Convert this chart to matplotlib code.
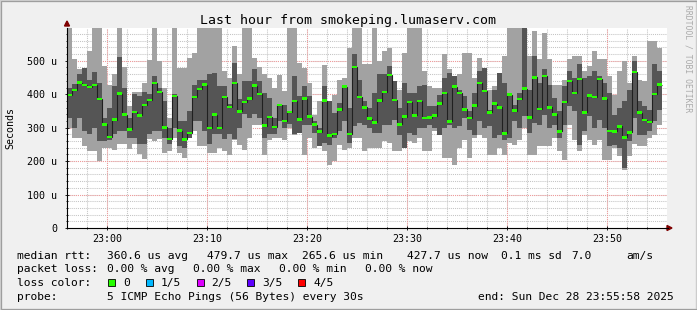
import numpy as np
import matplotlib
matplotlib.use("Agg")
import matplotlib.pyplot as plt
from matplotlib.patches import Rectangle, Polygon

W, H = 697, 310

# smoke data per 30s step, in microseconds (5 pings sorted: min, p2, median, p4, max)
ping_max = [598, 506, 474, 477, 528, 598, 597, 484, 427, 460, 598, 482, 364, 407, 407, 434, 501, 598, 500, 420,
            330, 598, 479, 479, 509, 524, 598, 598, 598, 598, 598, 469, 449, 544, 459, 598, 598, 509, 480, 460,
            449, 420, 456, 409, 598, 598, 494, 479, 434, 339, 379, 486, 379, 399, 444, 449, 537, 598, 598, 489,
            490, 598, 499, 529, 539, 439, 414, 524, 598, 598, 598, 469, 424, 419, 419, 519, 474, 454, 459, 524,
            524, 449, 509, 479, 414, 424, 464, 514, 598, 598, 598, 598, 514, 589, 504, 584, 504, 429, 429, 444,
            504, 514, 514, 469, 484, 529, 504, 504, 454, 399, 469, 499, 434, 514, 444, 439, 559, 559, 539]
ping_hi = [419, 430, 460, 477, 444, 467, 434, 330, 360, 424, 511, 420, 330, 400, 395, 407, 400, 454, 420, 380,
           300, 400, 320, 320, 350, 429, 444, 444, 460, 464, 424, 424, 370, 494, 385, 440, 440, 474, 440, 405,
           389, 330, 369, 369, 349, 454, 394, 424, 394, 319, 300, 426, 379, 344, 374, 424, 359, 519, 444, 379,
           360, 404, 459, 459, 484, 439, 359, 434, 404, 404, 424, 429, 364, 364, 399, 449, 464, 454, 414, 394,
           349, 404, 469, 479, 354, 414, 464, 434, 399, 369, 404, 598, 414, 514, 434, 474, 429, 389, 349, 424,
           469, 449, 489, 449, 454, 469, 454, 434, 404, 339, 359, 379, 414, 499, 379, 364, 354, 489, 469]
ping_med = [397, 412, 435, 427, 422, 427, 385, 310, 272, 324, 402, 339, 295, 347, 337, 367, 382, 434, 407, 301,
            266, 394, 291, 265, 284, 391, 416, 429, 299, 339, 299, 391, 362, 433, 349, 376, 387, 426, 401, 306,
            332, 302, 367, 320, 347, 380, 325, 387, 333, 309, 288, 381, 276, 281, 354, 423, 281, 481, 392, 361,
            327, 316, 381, 406, 457, 383, 310, 333, 377, 337, 380, 329, 330, 336, 372, 403, 319, 423, 403, 355,
            329, 366, 433, 410, 346, 372, 361, 283, 399, 351, 385, 417, 330, 450, 356, 454, 361, 340, 289, 376,
            439, 403, 446, 346, 396, 391, 446, 387, 290, 289, 304, 271, 286, 467, 345, 323, 317, 401, 429]
ping_lo = [330, 300, 330, 290, 280, 300, 260, 260, 262, 280, 290, 290, 270, 270, 250, 250, 280, 290, 290, 270,
           250, 300, 245, 240, 270, 320, 320, 290, 250, 280, 280, 265, 280, 265, 300, 340, 330, 340, 330, 270,
           280, 280, 319, 299, 310, 280, 284, 309, 309, 284, 244, 254, 249, 269, 289, 319, 254, 304, 314, 309,
           300, 284, 284, 309, 309, 324, 279, 239, 284, 279, 299, 299, 309, 299, 279, 299, 309, 299, 304, 329,
           294, 279, 319, 299, 304, 269, 279, 264, 269, 319, 299, 334, 284, 314, 309, 339, 299, 309, 269, 309,
           364, 349, 249, 289, 334, 299, 324, 299, 244, 249, 240, 180, 259, 330, 279, 279, 289, 319, 354]
ping_min = [300, 270, 270, 245, 230, 230, 200, 240, 240, 234, 250, 250, 235, 250, 220, 205, 265, 260, 265, 225,
            229, 268, 224, 209, 269, 289, 244, 244, 224, 224, 239, 229, 219, 264, 249, 234, 269, 309, 309, 219,
            264, 269, 269, 264, 299, 279, 284, 219, 269, 239, 244, 229, 189, 199, 249, 234, 239, 269, 269, 229,
            240, 239, 239, 259, 254, 229, 229, 239, 259, 254, 269, 229, 229, 289, 279, 209, 209, 189, 239, 264,
            209, 269, 279, 269, 219, 219, 239, 219, 254, 249, 264, 299, 219, 219, 244, 244, 244, 269, 229, 204,
            309, 264, 229, 279, 264, 249, 264, 204, 204, 239, 215, 173, 214, 250, 244, 244, 269, 279, 309]

y_ticks = [0, 100, 200, 300, 400, 500]
y_labels = ["0", "100 u", "200 u", "300 u", "400 u", "500 u"]
x_labels = ["23:00", "23:10", "23:20", "23:30", "23:40", "23:50"]
first_label_s = 242  # 23:00 is 242 s after the graph start 22:55:58
step = 30
swidth = 3.7

legend_rows = [
    [(16.7, "median rtt:"), (107.3, "360.6 us avg"), (207.3, "479.7 us max"), (301.7, "265.6 us min"),
     (406.7, "427.7 us now"), (500.7, "0.1 ms sd"), (571.7, "7.0"), (626.7, "am/s")],
    [(16.7, "packet loss:"), (107.3, "0.00 % avg"), (193.3, "0.00 % max"), (279.3, "0.00 % min"),
     (365.0, "0.00 % now")],
    [(16.7, "loss color:"), (123.3, "0"), (160.7, "1/5"), (211.0, "2/5"), (262.3, "3/5"), (313.3, "4/5")],
    [(16.7, "probe:"), (107.3, "5 ICMP Echo Pings (56 Bytes) every 30s"), (478.3, "end: Sun Dec 28 23:55:58 2025")],
]
legend_baselines = [259, 272.5, 286, 299.5]
loss_colors = [(108, "#26ff00"), (145.7, "#00b8ff"), (196.7, "#dd00ff"), (247.3, "#5e00ff"), (298.3, "#ff0000")]

MONO = "DejaVu Sans Mono"


def fx(x):
    return x / W


def fy(y):
    return 1 - y / H


fig = plt.figure(figsize=(W / 100, H / 100), dpi=100, facecolor="#f0f0f0")

# 3d-ish frame
fig.patches.append(Rectangle((0, 0), 1, 1, transform=fig.transFigure, fill=False,
                             edgecolor="#cfcfcf", lw=2.5))
fig.patches.append(Rectangle((fx(1), fy(309)), fx(696), 1 - 2 / H, transform=fig.transFigure, fill=False,
                             edgecolor="#9e9e9e", lw=0.8))

ax = fig.add_axes([fx(67), fy(228), 600 / W, 200 / H])
ax.set_facecolor("white")

# grid under the smoke
minor_x = np.arange(first_label_s % 120, 3600, 120)
major_x = np.arange(first_label_s, 3600, 600)
grid_kw = dict(lw=0.75, ls=(0, (1, 1)), zorder=1)
for x in minor_x:
    ax.axvline(x, color="#c4c4c4", **grid_kw)
for y in np.arange(20, 600, 20):
    ax.axhline(y, color="#c4c4c4", **grid_kw)
for x in major_x:
    ax.axvline(x, color="#f29a9a", **grid_kw)
for y in y_ticks[1:]:
    ax.axhline(y, color="#f29a9a", **grid_kw)

n = len(ping_med)
edges = np.arange(n + 1) * step
ax.stairs(ping_lo, edges, baseline=ping_min, fill=True, color="#a2a2a2", lw=0, zorder=2)
ax.stairs(ping_hi, edges, baseline=ping_lo, fill=True, color="#555555", lw=0, zorder=2)
ax.stairs(ping_max, edges, baseline=ping_hi, fill=True, color="#a2a2a2", lw=0, zorder=2)

# median line and loss-coloured median marks
ax.stairs(ping_med, edges, baseline=None, color="#202020", lw=0.8, zorder=3)
med = np.array(ping_med)
ax.stairs(med + swidth, edges, baseline=med - swidth, fill=True, color="#26ff00", lw=0, zorder=5)

ax.set_xlim(0, 3600)
ax.set_ylim(0, 598)
for s in ["top", "right"]:
    ax.spines[s].set_visible(False)
for s in ["left", "bottom"]:
    ax.spines[s].set_color("#000000")
    ax.spines[s].set_linewidth(0.8)
    ax.spines[s].set_zorder(6)

ax.set_xticks(major_x)
ax.set_xticklabels(x_labels, fontfamily=MONO, fontsize=7.2)
ax.set_xticks(minor_x, minor=True)
ax.set_yticks(y_ticks)
ax.set_yticklabels(y_labels, fontfamily=MONO, fontsize=7.2)
ax.set_yticks(np.arange(0, 600, 20), minor=True)
ax.tick_params(axis="both", which="both", direction="inout", color="#000000", width=0.6)
ax.tick_params(axis="both", which="major", length=3)
ax.tick_params(axis="both", which="minor", length=1.5)
ax.tick_params(axis="x", which="major", pad=3)
ax.tick_params(axis="y", which="major", pad=5.5)

# axis arrows
fig.patches.append(Polygon([(fx(64.5), fy(26)), (fx(69.5), fy(26)), (fx(67), fy(21))], closed=True,
                           transform=fig.transFigure, color="#7f0000"))
fig.patches.append(Polygon([(fx(667), fy(225.5)), (fx(667), fy(230.5)), (fx(672), fy(228))], closed=True,
                           transform=fig.transFigure, color="#7f0000"))
fig.lines.append(plt.Line2D([fx(665), fx(668)], [fy(228), fy(228)], transform=fig.transFigure,
                            color="black", lw=0.8))

fig.text(fx(348), fy(23.7), "Last hour from smokeping.lumaserv.com", family=MONO, fontsize=9.5,
         ha="center", va="baseline", color="#000000")
fig.text(fx(10), fy(128), "Seconds", family=MONO, fontsize=7.2, rotation=90, ha="center", va="center")
fig.text(fx(688), fy(5), "RRDTOOL / TOBI OETIKER", family=MONO, fontsize=5.8, rotation=270,
         ha="center", va="top", color="#aaaaaa")

for row, base in zip(legend_rows, legend_baselines):
    for x, txt in row:
        fig.text(fx(x), fy(base), txt, family=MONO, fontsize=8.1, ha="left", va="baseline")

for x, c in loss_colors:
    fig.patches.append(Rectangle((fx(x), fy(286)), 7 / W, 7 / H, transform=fig.transFigure,
                                 facecolor=c, edgecolor="black", lw=0.6))

fig.savefig("out.png", dpi=100, facecolor=fig.get_facecolor())
